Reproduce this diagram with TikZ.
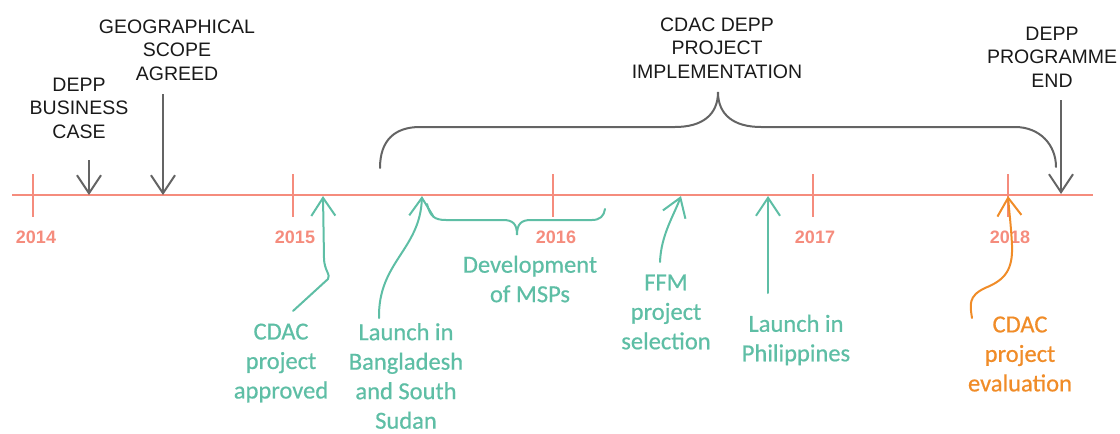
\documentclass[tikz,border=0pt]{standalone}
\usepackage{fontspec}
\setmainfont{Liberation Sans}
\newfontfamily\handfont[FakeBold=0.6]{Carlito}
\usetikzlibrary{arrows.meta}
\definecolor{csalmon}{RGB}{245,140,125}
\definecolor{cteal}{RGB}{94,190,165}
\definecolor{corange}{RGB}{240,140,40}
\definecolor{cgray}{RGB}{100,100,100}
\definecolor{ctext}{RGB}{25,25,25}
\begin{document}
\begin{tikzpicture}[x=1pt,y=-1pt,
  blk/.style={font=\fontsize{19.5}{23.5}\selectfont, text=ctext, align=center, inner sep=0pt},
  grn/.style={font=\handfont\fontsize{24.5}{29.5}\selectfont, text=cteal, align=center, inner sep=0pt},
  org/.style={grn, text=corange},
  yearlbl/.style={font=\bfseries\fontsize{18}{20}\selectfont, text=csalmon, inner sep=0pt},
  tline/.style={draw=csalmon, line width=2pt},
  barb/.style={-{Straight Barb[length=18pt,width=24pt]}},
  garrow/.style={draw=cgray, line width=2pt, barb},
  tarrow/.style={draw=cteal, line width=2pt, barb, line cap=round},
  oarrow/.style={draw=corange, line width=2pt, barb, line cap=round},
  brace/.style={draw=cgray, line width=2pt, line cap=round},
  tbrace/.style={draw=cteal, line width=2pt, line cap=round},
]
\useasboundingbox (0,0) rectangle (1120,434);

% timeline
\coordinate (tl) at (12,195);
\coordinate (tr) at (1093,195);
\draw[tline] (tl) -- (tr);
\foreach \x/\n in {33/14,293/15,553/16,813/17,1008/18}{
  \coordinate (t\n a) at (\x,174);
  \coordinate (t\n b) at (\x,217);
  \draw[tline] (t\n a) -- (t\n b);
}

% years
\node[yearlbl] (y14) at (36,237) {2014};
\node[yearlbl] (y15) at (295,237) {2015};
\node[yearlbl] (y16) at (556,237) {2016};
\node[yearlbl] (y17) at (815,237) {2017};
\node[yearlbl] (y18) at (1010,237) {2018};

% black labels
\node[blk] (bizcase) at (79,108) {DEPP\\BUSINESS\\CASE};
\node[blk] (geo) at (177,50) {GEOGRAPHICAL\\SCOPE\\AGREED};
\node[blk] (impl) at (717,48) {CDAC DEPP\\PROJECT\\IMPLEMENTATION};
\node[blk] (progend) at (1052,57) {DEPP\\PROGRAMME\\END};

% black arrows
\coordinate (a1s) at (89,160);  \coordinate (a1e) at (89,195);
\coordinate (a2s) at (163,94);  \coordinate (a2e) at (163,195);
\coordinate (a3s) at (1061,100); \coordinate (a3e) at (1061,194);
\draw[garrow] (a1s) -- (a1e);
\draw[garrow] (a2s) -- (a2e);
\draw[garrow] (a3s) -- (a3e);

% big brace
\coordinate (bl) at (380,168);
\coordinate (bm) at (718,92);
\coordinate (br) at (1056,167);
\draw[brace] (bl) .. controls (380,140) and (395,127) .. (420,127) -- (675,127)
  .. controls (702,127) and (718,115) .. (bm)
  .. controls (718,115) and (734,127) .. (761,127) -- (1015,127)
  .. controls (1040,127) and (1056,145) .. (br);

% small teal brace
\coordinate (sbl) at (427,204);
\coordinate (sbm) at (517,235);
\coordinate (sbr) at (605,209);
\draw[tbrace] (sbl) .. controls (430,216) and (434,220) .. (446,220) -- (503,220)
  .. controls (513,220) and (517,224) .. (sbm)
  .. controls (517,224) and (521,220) .. (531,220) -- (592,220)
  .. controls (600,220) and (604,216) .. (sbr);

% teal labels
\node[grn] (approved) at (281,363) {CDAC\\project\\approved};
\node[grn] (launchbd) at (406,376) {Launch in\\Bangladesh\\and South\\Sudan};
\node[grn] (msp) at (530,279) {Development\\of MSPs};
\node[grn] (ffm) at (666,312) {FFM\\project\\selection};
\node[grn] (launchph) at (796,340) {Launch in\\Philippines};
\node[org] (eval) at (1020,354) {CDAC\\project\\evaluation};

% teal arrows
\coordinate (g1s) at (293,311); \coordinate (g1e) at (323,196);
\coordinate (g2s) at (379,318); \coordinate (g2e) at (422,196);
\coordinate (g3s) at (660,262); \coordinate (g3e) at (681,196);
\coordinate (g4s) at (768,293); \coordinate (g4e) at (768,196);
\draw[tarrow, line join=round] (g1s) -- (328,279) .. controls (331,275) and (324,270) .. (324,258) -- (g1e);
\draw[tarrow] (g2s) .. controls (378,262) and (420,250) .. (g2e);
\draw[tarrow] (g3s) .. controls (661,235) and (674,215) .. (g3e);
\draw[tarrow] (g4s) -- (g4e);

% orange arrow
\coordinate (o1s) at (972,318); \coordinate (o1e) at (1008,196);
\draw[oarrow] (o1s) .. controls (970,305) and (968,296) .. (985,288)
  .. controls (1005,280) and (1013,270) .. (1012,245)
  .. controls (1011,225) and (1009,210) .. (o1e);
\end{tikzpicture}
\end{document}
